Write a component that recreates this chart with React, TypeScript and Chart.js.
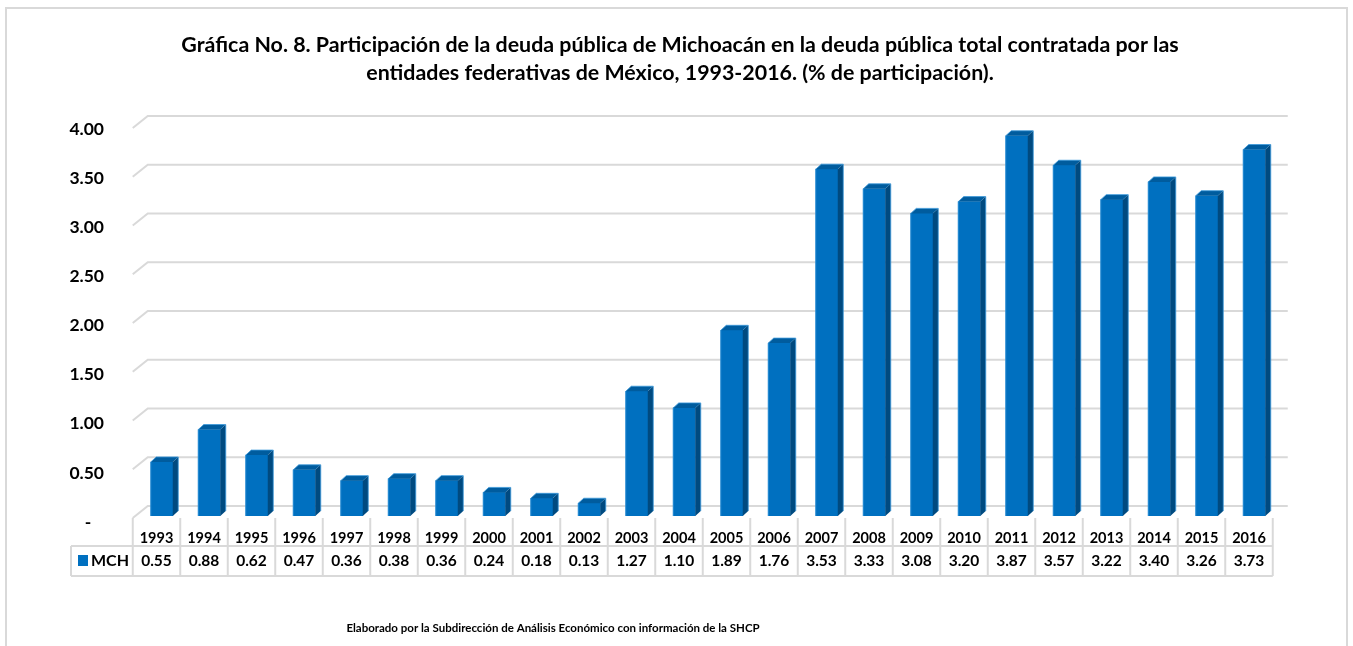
import React, { useEffect, useRef } from 'react';
import { Chart, registerables } from 'chart.js';

Chart.register(...registerables);

const years = ['1993', '1994', '1995', '1996', '1997', '1998', '1999', '2000', '2001', '2002', '2003', '2004', '2005', '2006', '2007', '2008', '2009', '2010', '2011', '2012', '2013', '2014', '2015', '2016'];
const mch = [0.55, 0.88, 0.62, 0.47, 0.36, 0.38, 0.36, 0.24, 0.18, 0.13, 1.27, 1.10, 1.89, 1.76, 3.53, 3.33, 3.08, 3.20, 3.87, 3.57, 3.22, 3.40, 3.26, 3.73];
const seriesName = 'MCH';
const titleLines = [
  'Gráfica No. 8. Participación de la deuda pública de Michoacán en la deuda pública total contratada por las',
  'entidades federativas de México, 1993-2016. (% de participación).',
];
const footerText = 'Elaborado por la Subdirección de Análisis Económico con información de la SHCP';

const FONT = 'Lato, "Open Sans", sans-serif';
const BLUE = '#0070C0';
const SIDE = '#004A80';
const TOP = '#005C9E';
const EDGE = '#3A98DA';
const GRID = '#D9D9D9';

const SHIFT = 5.25; // bar centre offset from category centre (3D depth)
const DX = 5.5;
const DY = 5;

const decorPlugin = {
  id: 'decor',
  beforeDraw(chart: any) {
    const ctx = chart.ctx;
    const ys = chart.scales.y;
    const { left, right, bottom } = chart.chartArea;
    ctx.save();
    ctx.fillStyle = '#ffffff';
    ctx.fillRect(0, 0, chart.width, chart.height);
    ctx.strokeStyle = GRID;
    ctx.lineWidth = 2;
    ctx.strokeRect(6, 8, 1341, 700);
    const catLeft = left - SHIFT;
    const catRight = right - SHIFT;
    const ratio = 97.5 / 98.25;
    ctx.lineWidth = 2;
    ctx.strokeStyle = GRID;
    ys.ticks.forEach((t: any) => {
      const p = ys.getPixelForValue(t.value);
      const h = (bottom - p) * ratio;
      const yf = bottom + 2 - h;
      const yb = bottom - 10 - h;
      ctx.beginPath();
      ctx.moveTo(catLeft, yf);
      ctx.lineTo(catLeft + 15, yb);
      ctx.lineTo(catRight + 15, yb);
      ctx.stroke();
    });
    ctx.restore();
  },
  afterDatasetsDraw(chart: any) {
    const ctx = chart.ctx;
    const meta = chart.getDatasetMeta(0);
    ctx.save();
    meta.data.forEach((bar: any) => {
      const { x, y, base, width } = bar.getProps(['x', 'y', 'base', 'width'], true);
      const l = x - width / 2;
      const r = x + width / 2;
      ctx.fillStyle = SIDE;
      ctx.beginPath();
      ctx.moveTo(r, y);
      ctx.lineTo(r + DX, y - DY);
      ctx.lineTo(r + DX, base - DY);
      ctx.lineTo(r, base);
      ctx.closePath();
      ctx.fill();
      ctx.fillStyle = TOP;
      ctx.beginPath();
      ctx.moveTo(l, y);
      ctx.lineTo(l + DX, y - DY);
      ctx.lineTo(r + DX, y - DY);
      ctx.lineTo(r, y);
      ctx.closePath();
      ctx.fill();
      ctx.strokeStyle = EDGE;
      ctx.lineWidth = 0.8;
      ctx.beginPath();
      ctx.moveTo(l, base);
      ctx.lineTo(l, y);
      ctx.lineTo(l + DX, y - DY);
      ctx.lineTo(r + DX, y - DY);
      ctx.lineTo(r + DX, base - DY);
      ctx.stroke();
    });
    ctx.restore();
  },
  afterDraw(chart: any) {
    const ctx = chart.ctx;
    const xs = chart.scales.x;
    const { left, right, bottom } = chart.chartArea;
    const catLeft = left - SHIFT;
    const catRight = right - SHIFT;
    const n = years.length;
    const cw = (catRight - catLeft) / n;
    const rowTop = bottom + 2;
    const mid = bottom + 30;
    const rowBot = bottom + 60;
    const tableLeft = 71;
    ctx.save();
    ctx.strokeStyle = GRID;
    ctx.lineWidth = 2;
    for (let k = 0; k <= n; k++) {
      const xx = catLeft + k * cw;
      ctx.beginPath();
      ctx.moveTo(xx, rowTop);
      ctx.lineTo(xx, rowBot);
      ctx.stroke();
    }
    ctx.beginPath();
    ctx.moveTo(tableLeft, mid);
    ctx.lineTo(catRight, mid);
    ctx.moveTo(tableLeft, rowBot);
    ctx.lineTo(catRight, rowBot);
    ctx.moveTo(tableLeft, mid);
    ctx.lineTo(tableLeft, rowBot);
    ctx.stroke();
    ctx.fillStyle = BLUE;
    ctx.fillRect(78, mid + 9, 10, 11);
    ctx.fillStyle = '#000000';
    ctx.font = `bold 16px ${FONT}`;
    ctx.textAlign = 'left';
    ctx.textBaseline = 'middle';
    ctx.fillText(seriesName, 91, mid + 15);
    ctx.textAlign = 'center';
    ctx.font = `bold 15.5px ${FONT}`;
    mch.forEach((v, i) => {
      const cx = xs.getPixelForValue(i) - SHIFT;
      ctx.fillText(v.toFixed(2), cx, mid + 15);
    });
    ctx.font = `bold 11.5px ${FONT}`;
    ctx.fillText(footerText, 553, 628);
    ctx.restore();
  },
};

export default function App() {
  const ref = useRef<HTMLCanvasElement | null>(null);
  useEffect(() => {
    if (!ref.current) return;
    const chart = new Chart(ref.current, {
      type: 'bar',
      data: {
        labels: years,
        datasets: [
          {
            label: seriesName,
            data: mch,
            backgroundColor: BLUE,
            borderWidth: 0,
            barThickness: 22,
          },
        ],
      },
      options: {
        animation: false,
        responsive: false,
        maintainAspectRatio: false,
        devicePixelRatio: 1,
        layout: { padding: { left: 7, right: 0, top: 0, bottom: 70 } },
        plugins: {
          legend: { display: false },
          tooltip: { enabled: false },
          title: {
            display: true,
            text: titleLines,
            color: '#000000',
            font: { family: FONT, size: 21.4, weight: 'bold', lineHeight: '28px' as any },
            padding: { top: 31, bottom: 36 },
          },
        },
        scales: {
          x: {
            grid: { display: false },
            border: { display: false },
            ticks: {
              color: '#000000',
              font: { family: FONT, size: 14.5, weight: 'bold' },
              labelOffset: -SHIFT,
              padding: 6,
              maxRotation: 0,
              autoSkip: false,
            },
            afterFit: (s: any) => {
              s.height = 60;
            },
          },
          y: {
            min: 0,
            max: 4,
            grid: { display: false },
            border: { display: false },
            ticks: {
              stepSize: 0.5,
              color: '#000000',
              font: { family: FONT, size: 17.5, weight: 'bold' },
              labelOffset: 6,
              padding: 26,
              callback: (v: any) => (Number(v) === 0 ? '-   ' : Number(v).toFixed(2)),
            },
            afterFit: (s: any) => {
              s.width = 131;
            },
          },
          yRight: {
            type: 'linear',
            position: 'right',
            display: true,
            grid: { display: false },
            border: { display: false },
            ticks: { display: false },
            afterFit: (s: any) => {
              s.width = 75;
            },
          },
        },
      },
      plugins: [decorPlugin],
    });
    return () => chart.destroy();
  }, []);
  return (
    <div style={{ position: 'fixed', left: 0, top: 0, width: 1353, height: 646, background: '#fff' }}>
      <canvas ref={ref} width={1353} height={646} style={{ display: 'block' }} />
    </div>
  );
}
